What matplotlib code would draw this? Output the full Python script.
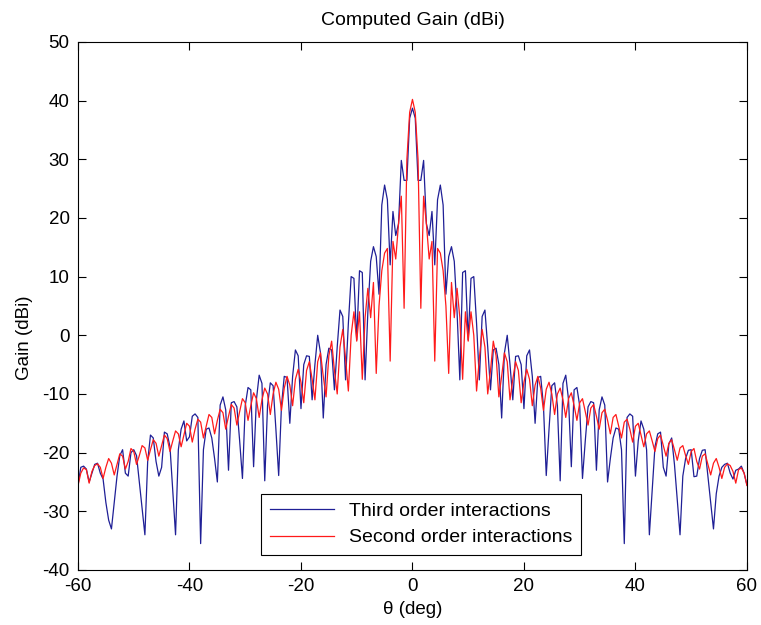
import numpy as np
import matplotlib
matplotlib.use('Agg')
import matplotlib.pyplot as plt

plt.rcParams['font.family'] = ['Liberation Sans', 'DejaVu Sans']
plt.rcParams['axes.unicode_minus'] = False

# kat obserwacji, co 0.5 stopnia
theta = np.arange(-60, 60.5, 0.5)

# zysk - oddzialywania trzeciego rzedu (niebieska)
gain_third = [
    -25.5, -22.5, -22.3, -22.8, -25.0, -23.5, -22.0, -21.8, -23.5, -24.5,   # -60 .. -55.5
    -28.5, -31.5, -33.0, -28.5, -24.0, -20.5, -19.5, -23.5, -24.0, -20.0,   # -55 .. -50.5
    -19.5, -20.5, -25.0, -29.5, -34.0, -21.5, -17.0, -17.5, -21.5, -24.0,   # -50 .. -45.5
    -22.5, -16.5, -16.8, -19.0, -26.5, -34.0, -19.5, -16.0, -14.6, -18.0,   # -45 .. -40.5
    -17.3, -13.8, -13.4, -14.0, -35.5, -19.5, -16.0, -15.8, -17.5, -21.0,   # -40 .. -35.5
    -25.0, -11.9, -10.5, -12.7, -23.0, -11.5, -11.3, -12.2, -18.0, -24.4,   # -35 .. -30.5
    -12.0, -8.9, -9.3, -22.4, -11.0, -6.8, -8.2, -24.8, -12.0, -8.1,        # -30 .. -25.5
    -8.6, -16.0, -23.9, -12.0, -7.0, -7.2, -15.0, -7.0, -2.5, -3.5,         # -25 .. -20.5
    -12.5, -5.0, -3.5, -3.6, -11.0, -5.0, 0.0, -3.0, -14.1, -5.0,           # -20 .. -15.5
    -2.2, -2.5, -9.3, -2.0, 4.3, 3.2, -7.6, 2.0, 10.0, 9.7,                 # -15 .. -10.5
    -0.8, 11.0, 10.7, -7.6, 4.0, 12.6, 15.1, 13.4, 7.0, 22.2,               # -10 .. -5.5
    25.6, 23.1, 12.0, 21.1, 17.0, 19.0, 29.8, 26.4, 26.4, 37.0,             # -5 .. -0.5
    38.7,                                                                   # 0
    37.0, 26.4, 26.4, 29.8, 19.0, 17.0, 21.1, 12.0, 23.1, 25.6,             # 0.5 .. 5
    22.2, 7.0, 13.4, 15.1, 12.6, 4.0, -7.6, 10.7, 11.0, -0.8,               # 5.5 .. 10
    9.7, 10.0, 2.0, -7.6, 3.2, 4.3, -2.0, -9.3, -2.5, -2.2,                 # 10.5 .. 15
    -5.0, -14.1, -3.0, 0.0, -5.0, -11.0, -3.6, -3.5, -5.0, -12.5,           # 15.5 .. 20
    -3.5, -2.5, -7.0, -15.0, -7.2, -7.0, -12.0, -23.9, -16.0, -8.6,         # 20.5 .. 25
    -8.1, -12.0, -24.8, -8.2, -6.8, -11.0, -22.4, -9.3, -8.9, -12.0,        # 25.5 .. 30
    -24.4, -18.0, -12.2, -11.3, -11.5, -23.0, -12.7, -10.5, -11.9, -25.0,   # 30.5 .. 35
    -21.0, -17.5, -15.8, -16.0, -19.5, -35.5, -14.0, -13.4, -13.8, -24.0,   # 35.5 .. 40
    -18.0, -14.6, -16.0, -19.5, -34.0, -26.5, -19.0, -16.8, -16.5, -22.5,   # 40.5 .. 45
    -24.0, -18.5, -17.5, -22.0, -28.0, -34.0, -24.0, -21.0, -19.6, -19.5,   # 45.5 .. 50
    -24.1, -24.0, -21.0, -19.6, -19.5, -24.0, -28.5, -33.0, -27.0, -24.0,   # 50.5 .. 55
    -22.5, -22.0, -21.8, -23.5, -24.5, -23.0, -22.8, -22.3, -23.5, -25.5,   # 55.5 .. 60
]

# zysk - oddzialywania drugiego rzedu (czerwona)
gain_second = [
    -25.6, -23.5, -22.6, -22.9, -25.2, -23.2, -22.2, -21.9, -22.5, -24.4,   # -60 .. -55.5
    -22.5, -21.0, -21.8, -23.8, -22.0, -20.2, -20.6, -22.8, -21.5, -19.3,   # -55 .. -50.5
    -19.8, -22.0, -20.5, -18.8, -19.2, -21.3, -19.5, -17.8, -18.4, -20.6,   # -50 .. -45.5
    -18.8, -17.0, -17.6, -19.8, -18.0, -16.3, -16.8, -19.0, -17.0, -15.0,   # -45 .. -40.5
    -15.5, -18.2, -16.0, -14.3, -14.8, -17.5, -15.5, -13.5, -14.0, -16.8,   # -40 .. -35.5
    -14.5, -12.6, -13.2, -16.0, -13.8, -11.8, -12.4, -15.3, -13.0, -10.8,   # -35 .. -30.5
    -11.5, -14.5, -12.0, -9.8, -10.8, -14.0, -11.0, -9.0, -10.0, -13.5,     # -30 .. -25.5
    -10.0, -8.0, -9.2, -12.8, -9.0, -7.0, -8.5, -12.0, -7.5, -5.8,          # -25 .. -20.5
    -8.0, -11.5, -6.0, -4.5, -7.5, -11.0, -4.5, -3.0, -7.0, -10.5,          # -20 .. -15.5
    -3.5, -1.0, -6.0, -10.0, -2.0, 1.0, -4.0, -9.5, 0.0, 4.0,               # -15 .. -10.5
    -1.0, 4.0, -7.5, 3.0, 8.0, 3.0, 9.0, -6.5, 5.0, 11.0,                   # -10 .. -5.5
    14.0, 14.8, -4.4, 16.0, 13.0, 19.0, 23.7, 4.6, 30.0, 38.0,              # -5 .. -0.5
    40.2,                                                                   # 0
    38.0, 30.0, 4.6, 23.7, 19.0, 13.0, 16.0, -4.4, 14.8, 14.0,              # 0.5 .. 5
    11.0, 5.0, -6.5, 9.0, 3.0, 8.0, 3.0, -7.5, 4.0, -1.0,                   # 5.5 .. 10
    4.0, 0.0, -9.5, -4.0, 1.0, -2.0, -10.0, -6.0, -1.0, -3.5,               # 10.5 .. 15
    -10.5, -7.0, -3.0, -4.5, -11.0, -7.5, -4.5, -6.0, -11.5, -8.0,          # 15.5 .. 20
    -5.8, -7.5, -12.0, -8.5, -7.0, -9.0, -12.8, -9.2, -8.0, -10.0,          # 20.5 .. 25
    -13.5, -10.0, -9.0, -11.0, -14.0, -10.8, -9.8, -12.0, -14.5, -11.5,     # 25.5 .. 30
    -10.8, -13.0, -15.3, -12.4, -11.8, -13.8, -16.0, -13.2, -12.6, -14.5,   # 30.5 .. 35
    -16.8, -14.0, -13.5, -15.5, -17.5, -14.8, -14.3, -16.0, -18.2, -15.5,   # 35.5 .. 40
    -15.0, -17.0, -19.0, -16.8, -16.3, -18.0, -19.8, -17.6, -17.0, -18.8,   # 40.5 .. 45
    -20.6, -18.4, -17.8, -19.5, -21.3, -19.2, -18.8, -20.5, -22.0, -19.8,   # 45.5 .. 50
    -19.3, -21.5, -22.8, -20.6, -20.2, -22.0, -23.8, -21.8, -21.0, -22.5,   # 50.5 .. 55
    -24.4, -22.5, -21.9, -22.2, -23.2, -25.2, -22.9, -22.6, -23.5, -25.6,   # 55.5 .. 60
]

fig = plt.figure(figsize=(7.61, 6.25), dpi=100)
ax = fig.add_axes([0.1025, 0.088, 0.879, 0.845])

ax.plot(theta, gain_third, color='#1f1f96', lw=0.9, label='Third order interactions')
ax.plot(theta, gain_second, color='#ff1a1a', lw=0.9, label='Second order interactions')

ax.set_xlim(-60, 60)
ax.set_ylim(-40, 50)
ax.set_xticks(np.arange(-60, 61, 20))
ax.set_yticks(np.arange(-40, 51, 10))
ax.tick_params(direction='in', length=6, width=0.8, top=True, right=True, labelsize=13.5, pad=6)
for sp in ax.spines.values():
    sp.set_linewidth(0.8)

ax.set_title('Computed Gain (dBi)', fontsize=14, pad=12)
ax.set_xlabel('θ (deg)', fontsize=13.5, labelpad=4)
ax.set_ylabel('Gain (dBi)', fontsize=13.5)
ax.yaxis.set_label_coords(-0.067, 0.44)

leg = ax.legend(loc='lower center', bbox_to_anchor=(0.513, 0.028), borderaxespad=0, fontsize=14,
                handlelength=3.3, fancybox=False, framealpha=1, edgecolor='black', borderpad=0.45,
                labelspacing=0.45)
leg.get_frame().set_linewidth(0.8)

plt.savefig('out.png', dpi=100)
